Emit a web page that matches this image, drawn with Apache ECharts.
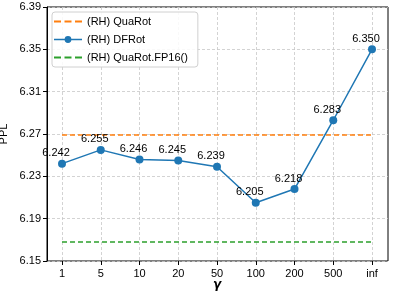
<!DOCTYPE html>
<html>
<head>
<meta charset="utf-8">
<script src="https://cdn.jsdelivr.net/npm/echarts@6/dist/echarts.min.js"></script>
<style>
html,body{margin:0;padding:0;background:#fff;}
#c{width:409px;height:293px;}
</style>
</head>
<body>
<div id="c"></div>
<script>
const categories = ['1','5','10','20','50','100','200','500','inf'];
const dfrot = [6.242, 6.255, 6.246, 6.245, 6.239, 6.205, 6.218, 6.283, 6.350];
const quarotLevel = 6.269;
const fp16Level = 6.168;
const quarot = categories.map(() => quarotLevel);
const fp16 = categories.map(() => fp16Level);
const yMin = 6.15, yMax = 6.39, yStep = 0.04;

const font = 'Liberation Sans, Arial, Helvetica, sans-serif';
const dashIcon = 'path://M0,4 L7,4 L7,6 L0,6 Z M10.5,4 L17.5,4 L17.5,6 L10.5,6 Z M21,4 L28,4 L28,6 L21,6 Z';
const dotLineIcon = 'path://M0,4.25 L28,4.25 L28,5.75 L0,5.75 Z M14,1.6 A3.4,3.4 0 1 1 13.99,1.6 Z';
const chart = echarts.init(document.getElementById('c'), null, {renderer: 'canvas'});
chart.setOption({
  animation: false,
  backgroundColor: '#fff',
  textStyle: {fontFamily: font},
  grid: [
    {left: 47, right: 21, top: 7, bottom: 32, show: true, borderColor: '#000', borderWidth: 1, backgroundColor: 'transparent', z: 0, containLabel: false, outerBoundsMode: 'none'},
    {left: 62, right: 37, top: 7, bottom: 32, show: false, containLabel: false, outerBoundsMode: 'none'}
  ],
  xAxis: [
    {gridIndex: 0, type: 'value', min: 0, max: 1, show: false},
    {gridIndex: 1, type: 'category', data: categories, boundaryGap: false,
     axisLine: {show: false},
     axisTick: {show: true, alignWithLabel: true, length: 4, lineStyle: {color: '#000'}},
     axisLabel: {color: '#000', fontSize: 11, fontFamily: font, margin: 7, interval: 0},
     splitLine: {show: true, interval: 0, lineStyle: {color: '#c8c8c8', type: [3, 2], width: 0.8}},
     name: 'γ', nameLocation: 'middle', nameGap: 18, nameMoveOverlap: false,
     nameTextStyle: {color: '#000', fontSize: 12, fontWeight: 'bold', fontStyle: 'italic', fontFamily: 'DejaVu Sans, sans-serif'}}
  ],
  yAxis: [
    {gridIndex: 0, type: 'value', min: yMin, max: yMax, interval: yStep,
     axisLine: {show: true, lineStyle: {color: '#000'}},
     axisTick: {show: true, length: 4, lineStyle: {color: '#000'}},
     axisLabel: {color: '#000', fontSize: 11, fontFamily: font, margin: 6, formatter: v => v.toFixed(2)},
     splitLine: {show: true, lineStyle: {color: '#c8c8c8', type: [3, 2], width: 0.8}},
     name: 'PPL', nameLocation: 'middle', nameGap: 38, nameMoveOverlap: false,
     nameTextStyle: {color: '#000', fontSize: 11, fontFamily: font}},
    {gridIndex: 1, type: 'value', min: yMin, max: yMax, interval: yStep, show: false}
  ],
  legend: {
    left: 52, top: 12, orient: 'vertical', itemGap: 7, itemWidth: 28, itemHeight: 10,
    padding: [4, 10, 4, 2],
    backgroundColor: 'rgba(255,255,255,0.85)', borderColor: '#d0d0d0', borderWidth: 1, borderRadius: 3,
    textStyle: {color: '#000', fontSize: 11, fontFamily: font},
    data: [
      {name: '(RH) QuaRot', icon: dashIcon, itemStyle: {color: '#ff7f0e'}},
      {name: '(RH) DFRot', icon: dotLineIcon, itemStyle: {color: '#1f77b4'}},
      {name: '(RH) QuaRot.FP16()', icon: dashIcon, itemStyle: {color: '#2ca02c'}}
    ]
  },
  series: [
    {name: '(RH) QuaRot', type: 'line', xAxisIndex: 1, yAxisIndex: 1, data: quarot,
     symbol: 'none', lineStyle: {color: '#ff7f0e', width: 1.5, type: [5, 3]}, itemStyle: {color: '#ff7f0e'}, z: 3},
    {name: '(RH) DFRot', type: 'line', xAxisIndex: 1, yAxisIndex: 1, data: dfrot,
     symbol: 'circle', symbolSize: 8,
     lineStyle: {color: '#1f77b4', width: 1.5}, itemStyle: {color: '#1f77b4'},
     label: {show: true, position: 'top', distance: 1, offset: [-6, 0], color: '#000', fontSize: 11, fontFamily: font,
             formatter: p => p.value.toFixed(3)}, z: 4},
    {name: '(RH) QuaRot.FP16()', type: 'line', xAxisIndex: 1, yAxisIndex: 1, data: fp16,
     symbol: 'none', lineStyle: {color: '#2ca02c', width: 1.5, type: [5, 3]}, itemStyle: {color: '#2ca02c'}, z: 3}
  ]
});
</script>
</body>
</html>
